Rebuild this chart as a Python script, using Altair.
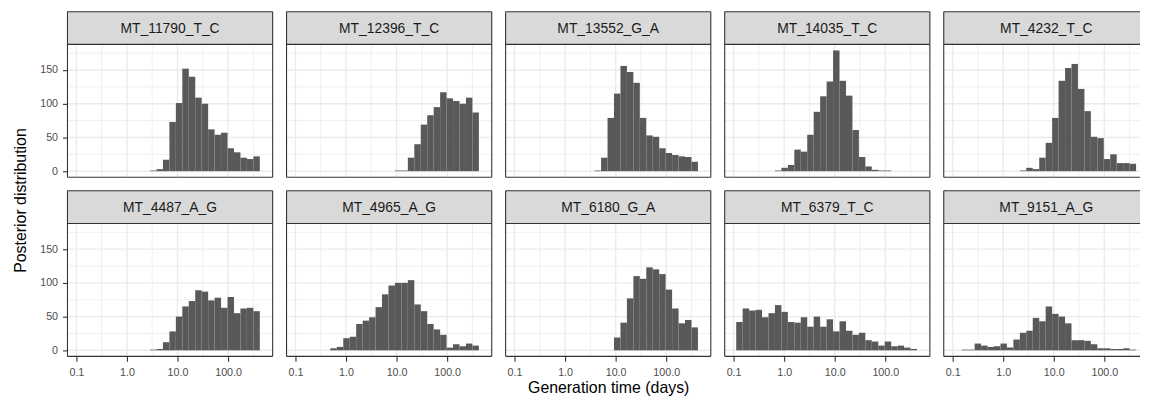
import altair as alt
import pandas as pd

FONT = "Liberation Sans"

# Panel names (facet order, row-major)
PANELS = [
    "MT_11790_T_C", "MT_12396_T_C", "MT_13552_G_A", "MT_14035_T_C", "MT_4232_T_C",
    "MT_4487_A_G", "MT_4965_A_G", "MT_6180_G_A", "MT_6379_T_C", "MT_9151_A_G",
]

# Histogram bins on log10(generation time): 28 bins of equal width
BIN_START = -0.948
BIN_WIDTH = 0.1277
N_BINS = 28

# Counts per bin (posterior draws)
MT_11790_T_C = [0]*11 + [1, 3, 17, 73, 101, 152, 140, 109, 100, 62, 54, 57, 34, 28, 20, 18, 22]
MT_12396_T_C = [0]*15 + [1, 1, 20, 40, 69, 83, 95, 117, 108, 104, 100, 109, 87]
MT_13552_G_A = [0]*12 + [1, 20, 79, 115, 156, 147, 131, 79, 53, 51, 34, 27, 24, 22, 21, 14]
MT_14035_T_C = [0]*6 + [1, 5, 9, 32, 29, 54, 88, 111, 133, 179, 134, 112, 61, 21, 7, 2, 1, 1] + [0]*4
MT_4232_T_C = [0]*10 + [1, 5, 3, 20, 42, 79, 134, 153, 159, 122, 89, 51, 49, 18, 25, 12, 12, 11]
MT_4487_A_G = [0]*11 + [1, 2, 12, 28, 50, 65, 73, 89, 87, 74, 78, 63, 79, 55, 62, 63, 58]
MT_4965_A_G = [0]*5 + [3, 5, 18, 20, 39, 44, 49, 64, 83, 96, 100, 100, 104, 68, 58, 39, 31, 23, 4, 9, 6, 10, 7]
MT_6180_G_A = [0]*15 + [19, 41, 77, 110, 106, 123, 120, 113, 90, 62, 40, 45, 34]
MT_6379_T_C = [42, 62, 59, 60, 49, 55, 67, 57, 42, 41, 49, 35, 50, 35, 46, 28, 43, 29, 23, 26, 15, 13, 7, 13, 6, 7, 4, 2]
MT_9151_A_G = [0] + [1, 1, 10, 7, 5, 6, 10, 4, 16, 26, 29, 48, 43, 65, 54, 50, 40, 15, 15, 14, 9, 3, 3, 2, 2, 3, 1]

COUNTS = [MT_11790_T_C, MT_12396_T_C, MT_13552_G_A, MT_14035_T_C, MT_4232_T_C,
          MT_4487_A_G, MT_4965_A_G, MT_6180_G_A, MT_6379_T_C, MT_9151_A_G]

# Axis ticks / grid
X_MAJOR = [-1, 0, 1, 2]          # log10 of 0.1, 1, 10, 100
X_MINOR = [-0.5, 0.5, 1.5, 2.5]
Y_MAJOR = [0, 50, 100, 150]
Y_MINOR = [25, 75, 125, 175]

X_TITLE = "Generation time (days)"
Y_TITLE = "Posterior distribution"

# Layout
W = 207
W_LAST = 198
STRIP = 33
PLOT_H = 134
H = STRIP + PLOT_H
X_DOMAIN = [-1.176, 2.882]
PX_PER_DEC = W / (X_DOMAIN[1] - X_DOMAIN[0])
Y_DOMAIN = [-8.95, 187.95]

BAR = "#595959"
GRID = "#EBEBEB"
BORDER = "#333333"
STRIP_FILL = "#D9D9D9"


def one():
    return pd.DataFrame({"a": [0]})


def panel(idx):
    name = PANELS[idx]
    counts = COUNTS[idx]
    row, col = divmod(idx, 5)
    last = col == 4
    w = W_LAST if last else W
    xdom = [X_DOMAIN[0], X_DOMAIN[0] + w / PX_PER_DEC]
    xs = alt.Scale(domain=xdom, nice=False, zero=False)
    ys = alt.Scale(domain=Y_DOMAIN, range=[H, STRIP], nice=False, zero=False)

    if row == 1:
        xaxis = alt.Axis(values=X_MAJOR, labelExpr="format(pow(10, datum.value), '.1f')",
                         labelPadding=5, title=X_TITLE if col == 2 else None,
                         titlePadding=3)
    else:
        xaxis = None
    if col == 0:
        yaxis = alt.Axis(values=Y_MAJOR, labelPadding=5, title=None)
    else:
        yaxis = None

    def X(f):
        return alt.X(f, type="quantitative", scale=xs, axis=xaxis)

    def Y(f):
        return alt.Y(f, type="quantitative", scale=ys, axis=yaxis)

    x0 = [BIN_START + BIN_WIDTH * k for k in range(N_BINS)]
    df = pd.DataFrame({"x0": x0, "x1": [v + BIN_WIDTH for v in x0], "count": counts})
    df = df[df["count"] > 0]

    layers = [
        alt.Chart(pd.DataFrame({"g": X_MINOR})).mark_rule(color=GRID, strokeWidth=0.8).encode(x=X("g")),
        alt.Chart(pd.DataFrame({"g": X_MAJOR})).mark_rule(color=GRID, strokeWidth=1.4).encode(x=X("g")),
        alt.Chart(pd.DataFrame({"g": Y_MINOR})).mark_rule(color=GRID, strokeWidth=0.8).encode(y=Y("g")),
        alt.Chart(pd.DataFrame({"g": Y_MAJOR})).mark_rule(color=GRID, strokeWidth=1.4).encode(y=Y("g")),
        alt.Chart(df).mark_rect(color=BAR).encode(x=X("x0"), x2="x1:Q", y=Y("count"), y2=alt.datum(0)),
        alt.Chart(one()).mark_rect(fill=STRIP_FILL).encode(
            x=alt.value(0), x2=alt.value(w), y=alt.value(0), y2=alt.value(STRIP)),
        alt.Chart(one()).mark_text(font=FONT, fontSize=14, color="#1A1A1A", align="center",
                                   baseline="middle").encode(
            x=alt.value(W / 2), y=alt.value(STRIP / 2 + 0.5), text=alt.value(name)),
        # borders
        alt.Chart(one()).mark_rule(color=BORDER, strokeWidth=1.1).encode(
            x=alt.value(0), y=alt.value(0), y2=alt.value(H)),
        alt.Chart(one()).mark_rule(color=BORDER, strokeWidth=1.1).encode(
            x=alt.value(0), x2=alt.value(w), y=alt.value(0)),
        alt.Chart(one()).mark_rule(color=BORDER, strokeWidth=1.1).encode(
            x=alt.value(0), x2=alt.value(w), y=alt.value(STRIP)),
        alt.Chart(one()).mark_rule(color=BORDER, strokeWidth=1.1).encode(
            x=alt.value(0), x2=alt.value(w), y=alt.value(H)),
    ]
    if not last:
        layers.append(alt.Chart(one()).mark_rule(color=BORDER, strokeWidth=1.1).encode(
            x=alt.value(w), y=alt.value(0), y2=alt.value(H)))
    if row == 1 and col == 0:
        layers.append(alt.Chart(one()).mark_text(font=FONT, fontSize=16, color="#000000",
                                                 angle=270, align="center", baseline="middle").encode(
            x=alt.value(-47), y=alt.value(9.8), text=alt.value(Y_TITLE)))
    return alt.layer(*layers).properties(width=w, height=H)


chart = alt.concat(
    *[panel(i) for i in range(10)],
    columns=5,
    spacing=alt.RowColnumber(row=13.7, column=14),
    bounds="flush",
).properties(
    padding={"left": 4, "top": 0, "right": 0, "bottom": 0},
).configure(font=FONT).configure_view(stroke="transparent").configure_axis(
    labelFont=FONT, titleFont=FONT, labelColor="#4D4D4D", labelFontSize=10.8,
    tickColor=BORDER, tickSize=5, tickWidth=1.1, domain=False, grid=False,
    titleFontWeight="normal", titleFontSize=16, titleColor="#000000",
)

chart.save("out.html", embed_options={"renderer": "svg", "actions": False})
